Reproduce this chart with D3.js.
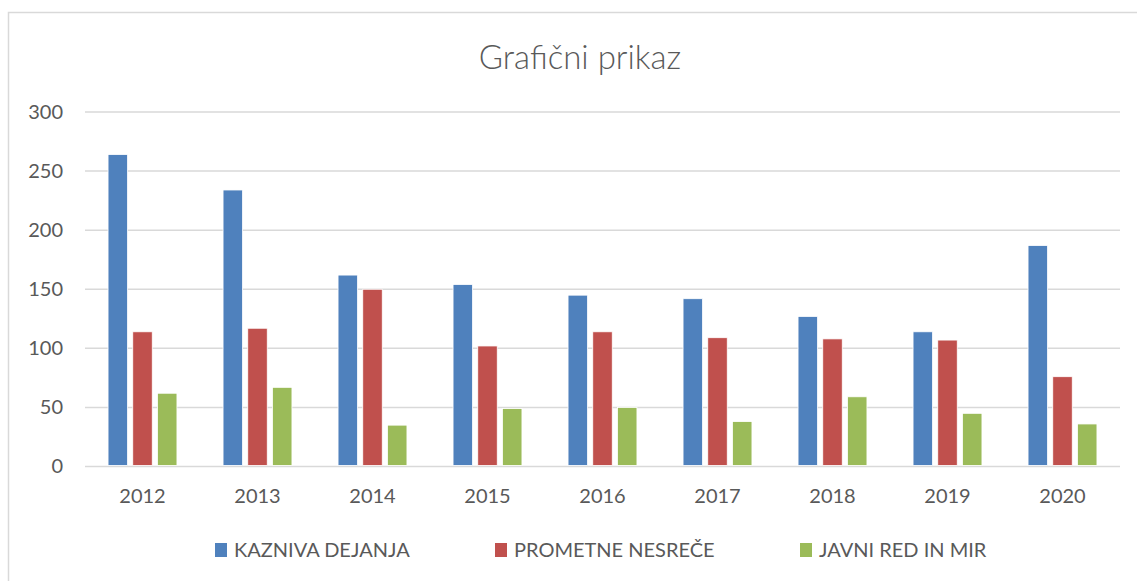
<!DOCTYPE html>
<html>
<head>
<meta charset="utf-8">
<script src="https://cdn.jsdelivr.net/npm/d3@7"></script>
<style>
  html, body { margin: 0; padding: 0; background: #fff; }
  svg { display: block; }
</style>
</head>
<body>
<svg id="chart" width="1137" height="581"></svg>
<script>
var years = ['2012', '2013', '2014', '2015', '2016', '2017', '2018', '2019', '2020']
var kazniva = [264, 234, 162, 154, 145, 142, 127, 114, 187]
var prometne = [114, 117, 150, 102, 114, 109, 108, 107, 76]
var javni = [62, 67, 35, 49, 50, 38, 59, 45, 36]
var seriesNames = ['KAZNIVA DEJANJA', 'PROMETNE NESREČE', 'JAVNI RED IN MIR']
var seriesColors = ['#4F81BD', '#C0504D', '#9BBB59']
var yTicks = [0, 50, 100, 150, 200, 250, 300]

var font = 'Lato, "Open Sans", sans-serif'
var textColor = '#595959'
var gridColor = '#d9d9d9'

var svg = d3.select('#chart')

// chart frame
svg.append('rect')
    .attr('x', 8.5).attr('y', 12.5)
    .attr('width', 1137).attr('height', 600)
    .attr('fill', 'none')
    .attr('stroke', gridColor)
    .attr('stroke-width', 1.5)

svg.append('text')
    .attr('x', 580).attr('y', 69)
    .attr('text-anchor', 'middle')
    .attr('font-family', font)
    .attr('font-size', '33px')
    .attr('font-weight', 300)
    .attr('fill', textColor)
    .text('Grafični prikaz')

var plotLeft = 85, plotRight = 1120, plotTop = 112, plotBottom = 466.5

var x = d3.scaleBand().domain(years).range([plotLeft, plotRight])
var y = d3.scaleLinear().domain([0, 300]).range([plotBottom, plotTop])

// gridlines
svg.selectAll('line.grid').data(yTicks).enter()
    .append('line')
    .attr('class', 'grid')
    .attr('x1', plotLeft).attr('x2', plotRight)
    .attr('y1', function(d){ return y(d) })
    .attr('y2', function(d){ return y(d) })
    .attr('stroke', gridColor)
    .attr('stroke-width', 1.5)

var yAxis = svg.append('g')
    .attr('transform', 'translate(63,0)')
    .call(d3.axisLeft(y).tickValues(yTicks).tickSize(0).tickPadding(0))
yAxis.select('.domain').remove()
yAxis.selectAll('text')
    .attr('font-family', font)
    .attr('font-size', '20px')
    .attr('fill', textColor)

var xAxis = svg.append('g')
    .attr('transform', 'translate(0,' + plotBottom + ')')
    .call(d3.axisBottom(x).tickSize(0).tickPadding(22))
xAxis.select('.domain').remove()
xAxis.selectAll('text')
    .attr('font-family', font)
    .attr('font-size', '20px')
    .attr('fill', textColor)

var series = [kazniva, prometne, javni]
var step = 24.7, barW = 19.5

for (var s = 0; s < series.length; s++) {
    svg.selectAll('rect.s' + s).data(series[s]).enter()
        .append('rect')
        .attr('class', 's' + s)
        .attr('x', function(d, i){ return x(years[i]) + x.bandwidth() / 2 + (s - 1) * step - barW / 2 })
        .attr('y', function(d){ return y(d) })
        .attr('width', barW)
        .attr('height', function(d){ return plotBottom - 1 - y(d) })
        .attr('fill', seriesColors[s])
        .attr('stroke', '#fff')
        .attr('stroke-width', 0.8)
}

// legend
var legendX = [215, 495, 800]
var legend = svg.selectAll('g.legend').data(seriesNames).enter()
    .append('g')
    .attr('class', 'legend')
    .attr('transform', function(d, i){ return 'translate(' + legendX[i] + ',550)' })
legend.append('rect')
    .attr('x', 0).attr('y', -7)
    .attr('width', 12).attr('height', 14)
    .attr('fill', function(d, i){ return seriesColors[i] })
legend.append('text')
    .attr('x', 19).attr('y', 7)
    .attr('font-family', font)
    .attr('font-size', '20px')
    .attr('fill', textColor)
    .text(function(d){ return d })
</script>
</body>
</html>
